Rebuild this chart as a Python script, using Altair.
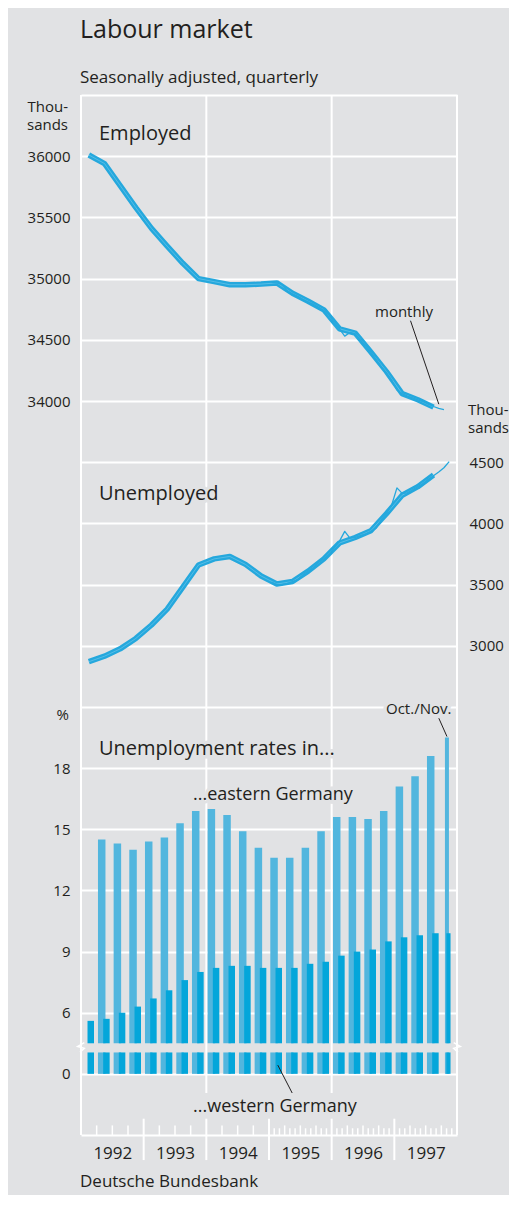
import altair as alt
import pandas as pd

# ---------------- data ----------------
quarters = [f"{y} Q{q}" for y in range(1992, 1998) for q in range(1, 5)][:23] + ["1997 Oct/Nov"]

# thousands, seasonally adjusted, quarterly 1992 Q1 - 1997 Q3
employed_q = [36010, 35940, 35760, 35580, 35410, 35265, 35125, 35000,
              34975, 34950, 34950, 34955, 34965, 34880, 34815, 34745,
              34590, 34555, 34400, 34240, 34060, 34010, 33950]
unemployed_q = [2870, 2915, 2975, 3060, 3170, 3300, 3480, 3660,
                3710, 3730, 3665, 3570, 3505, 3525, 3610, 3710,
                3840, 3885, 3940, 4080, 4230, 4300, 4395]

# monthly, Jan 1995 onwards
employed_m = [34970, 34965, 34950, 34900, 34875, 34855, 34830, 34810, 34790, 34765, 34740, 34700,
              34640, 34590, 34530, 34560, 34550, 34500, 34450, 34400, 34340, 34280, 34230, 34170,
              34090, 34060, 34040, 34025, 34010, 33995, 33975, 33955, 33940, 33930]
unemployed_m = [3520, 3500, 3500, 3510, 3525, 3540, 3580, 3610, 3640, 3680, 3710, 3745,
                3800, 3855, 3935, 3880, 3885, 3900, 3915, 3935, 3960, 4030, 4080, 4150,
                4290, 4245, 4250, 4275, 4300, 4325, 4360, 4390, 4420, 4455, 4505]

# unemployment rates, % (eastern series begins one quarter later in the chart)
east_rate = [None, 14.5, 14.3, 14.0, 14.4, 14.6, 15.3, 15.9, 16.0, 15.7, 14.9, 14.1,
             13.6, 13.6, 14.1, 14.9, 15.6, 15.6, 15.5, 15.9, 17.1, 17.6, 18.6, 19.5]
west_rate = [5.6, 5.7, 6.0, 6.3, 6.7, 7.1, 7.6, 8.0, 8.2, 8.3, 8.3, 8.2,
             8.2, 8.2, 8.4, 8.5, 8.8, 9.0, 9.1, 9.5, 9.7, 9.8, 9.9, 9.9]

year_labels = ["1992", "1993", "1994", "1995", "1996", "1997"]

# ---------------- styling ----------------
BG = "#e1e2e4"
TXT = "#231f20"
EAST_C = "#52b6de"
WEST_C = "#04a6da"
LINE_C = "#25a8dd"
STRIPE_C = "#6cc6ea"
FONT = "Open Sans"

W, H = 376, 1040
TOP_H = 612
PX_YEAR = W / 6.0
OFFSET_U = 29000  # unemployed plotted against the employed scale shifted by this

XS = alt.Scale(domain=[1992, 1998], nice=False, zero=False)
LINE_SCALE = alt.Scale(domain=[31500, 36500], range=[TOP_H, 0], nice=False, zero=False)
BAR_SCALE = alt.Scale(domain=[0, 21], range=[H, TOP_H], nice=False, zero=False)

X_AXIS = alt.Axis(values=[1992.5 + i for i in range(6)],
                  labelExpr="format(floor(datum.value), 'd')",
                  title=None, grid=False, tickSize=0, domain=True, domainColor="white",
                  domainWidth=2, labelPadding=10, labelFontSize=17, labelColor=TXT,
                  labelFont=FONT, labelFlush=False)


def X(field):
    return alt.X(field, type="quantitative", scale=XS, axis=X_AXIS)


# ---------------- tables ----------------
def q_time(j):
    return 1992 + (j + 0.5) / 4


def m_time(k):
    return 1995 + (k + 0.5) / 12


lines_q = pd.DataFrame(
    [{"t": q_time(j), "v": v, "s": "employed"} for j, v in enumerate(employed_q)]
    + [{"t": q_time(j), "v": v, "s": "unemployed"} for j, v in enumerate(unemployed_q)]
)
lines_m = pd.DataFrame(
    [{"t": m_time(k), "v": v, "s": "employed"} for k, v in enumerate(employed_m)]
    + [{"t": m_time(k), "v": v, "s": "unemployed"} for k, v in enumerate(unemployed_m)]
)

BREAK_LO, BREAK_HI, BASE = 4.05, 4.5, 3.0
rows = []
for j, q in enumerate(quarters):
    last = j == len(quarters) - 1
    for series, vals, off in (("east", east_rate, (3.6, 7.6) if last else (1.3, 8.8)),
                              ("west", west_rate, (5.0, 9.2) if last else (6.5, 13.0))):
        v = vals[j]
        if v is None:
            continue
        x0 = 1992 + j / 4 + off[0] / PX_YEAR
        x1 = 1992 + j / 4 + off[1] / PX_YEAR
        rows.append({"q": q, "s": series, "rate": v, "x0": x0, "x1": x1, "y0": BASE, "y1": BREAK_LO})
        rows.append({"q": q, "s": series, "rate": v, "x0": x0, "x1": x1, "y0": BREAK_HI, "y1": v})
bars = pd.DataFrame(rows)

tick_rows = []
for y in range(1992, 1998):
    if y > 1992:
        tick_rows.append({"pos": y, "a": 0.8, "b": -1.23, "w": 2})
    if y < 1995:
        for q in range(1, 4):
            tick_rows.append({"pos": y + q / 4, "a": 0.0, "b": 0.47, "w": 1.5})
    else:
        for m in range(1, 12):
            tick_rows.append({"pos": y + m / 12, "a": 0.0, "b": 0.47 if m % 3 == 0 else 0.33, "w": 1.5})
ticks = pd.DataFrame(tick_rows)

# ---------------- layers ----------------
one = alt.Data(values=[{}])

borders = alt.Chart(pd.DataFrame({"yr": [1992, 1998]})).mark_rule(color="white", strokeWidth=2).encode(
    x=X("yr"), y=alt.value(0), y2=alt.value(H))
inner = alt.Chart(pd.DataFrame({"yr": [1994, 1996]})).mark_rule(color="white", strokeWidth=2).encode(
    x=X("yr"), y=alt.value(0), y2=alt.value(H - 42))

BAR_AXIS = alt.Axis(values=[3, 6, 9, 12, 15, 18, 21], orient="left",
                    labelExpr="datum.value == 3 ? '0' : (datum.value == 21 ? '' : format(datum.value, 'd'))",
                    title=None, grid=True, gridColor="white", gridWidth=2, gridOpacity=1,
                    tickSize=0, domain=False, labelPadding=11, labelFontSize=15,
                    labelColor=TXT, labelFont=FONT, labelBaseline="middle")
east = alt.Chart(bars).transform_filter("datum.s == 'east'").mark_rect(color=EAST_C).encode(
    x=X("x0"), x2="x1",
    y=alt.Y("y0:Q", scale=BAR_SCALE, axis=BAR_AXIS), y2="y1")
west = alt.Chart(bars).transform_filter("datum.s == 'west'").mark_rect(color=WEST_C).encode(
    x=X("x0"), x2="x1",
    y=alt.Y("y0:Q", scale=BAR_SCALE, axis=None), y2="y1")

EMP_AXIS = alt.Axis(values=[32000 + 500 * i for i in range(10)], orient="left",
                    labelExpr="(datum.value >= 34000 && datum.value <= 36000) ? format(datum.value, 'd') : ''",
                    title=None, grid=True, gridColor="white", gridWidth=2, gridOpacity=1,
                    tickSize=0, domain=False, labelPadding=11, labelFontSize=15,
                    labelColor=TXT, labelFont=FONT, labelBaseline="middle")
UNE_AXIS = alt.Axis(values=[32000, 32500, 33000, 33500], orient="right",
                    labelExpr=f"format(datum.value - {OFFSET_U}, 'd')",
                    title=None, grid=False, tickSize=0, domain=False, labelPadding=12,
                    labelFontSize=15, labelColor=TXT, labelFont=FONT, labelBaseline="middle")


def line_layers(df, series, axis, thick):
    base = alt.Chart(df).transform_filter(f"datum.s == '{series}'").transform_calculate(
        yv=f"datum.v + {OFFSET_U if series == 'unemployed' else 0}")
    if thick:
        main = base.mark_line(color=LINE_C, strokeWidth=5.5, strokeJoin="round").encode(
            x=X("t"), y=alt.Y("yv:Q", scale=LINE_SCALE, axis=axis))
        stripe = base.mark_line(color=STRIPE_C, strokeWidth=0.7, strokeJoin="round").encode(
            x=X("t"), y=alt.Y("yv:Q", scale=LINE_SCALE, axis=None))
        return [main, stripe]
    return [base.mark_line(color=LINE_C, strokeWidth=1.3, strokeJoin="round").encode(
        x=X("t"), y=alt.Y("yv:Q", scale=LINE_SCALE, axis=axis))]


emp_layers = line_layers(lines_q, "employed", EMP_AXIS, True) + line_layers(lines_m, "employed", None, False)
une_layers = line_layers(lines_q, "unemployed", UNE_AXIS, True) + line_layers(lines_m, "unemployed", None, False)

tick_layer = alt.Chart(ticks).mark_rule(color="white").encode(
    x=X("pos"), y=alt.Y("a:Q", scale=BAR_SCALE, axis=None), y2="b",
    strokeWidth=alt.StrokeWidth("w:Q", scale=None, legend=None))

brk_l = alt.Chart(one).mark_point(shape="M 0.7 -1 L -0.7 -0.2 L 0.7 0.2 L -0.2 1", filled=False,
                                  stroke="white", strokeWidth=1.5, size=90, opacity=1).encode(
    x=alt.X(datum=1992, type="quantitative", scale=XS, axis=X_AXIS),
    y=alt.Y(datum=4.3, type="quantitative", scale=BAR_SCALE, axis=None))
brk_r = alt.Chart(one).mark_point(shape="M -0.7 -1 L 0.7 -0.2 L -0.7 0.2 L 0.2 1", filled=False,
                                  stroke="white", strokeWidth=1.5, size=90, opacity=1).encode(
    x=alt.X(datum=1998, type="quantitative", scale=XS, axis=X_AXIS),
    y=alt.Y(datum=4.3, type="quantitative", scale=BAR_SCALE, axis=None))


def leader(x0, x1, y0, y1, scale):
    return alt.Chart(one).mark_rule(color=TXT, strokeWidth=1).encode(
        x=alt.X(datum=x0, type="quantitative", scale=XS, axis=X_AXIS), x2=alt.datum(x1),
        y=alt.Y(datum=y0, type="quantitative", scale=scale, axis=None), y2=alt.datum(y1))


leaders = [
    leader(1997.25, 1997.71, 34668, 33974, LINE_SCALE),
    leader(1997.71, 1997.84, 20.45, 19.55, BAR_SCALE),
    leader(1995.14, 1995.37, 3.43, 2.06, BAR_SCALE),
]


def note(text, x, y, size, halo=False, align="left", baseline="alphabetic"):
    out = []
    if halo:
        out.append(alt.Chart(one).mark_text(text=text, font=FONT, fontSize=size, align=align,
                                            baseline=baseline, color=BG, stroke=BG, strokeWidth=7).encode(
            x=alt.value(x), y=alt.value(y)))
    out.append(alt.Chart(one).mark_text(text=text, font=FONT, fontSize=size, align=align,
                                        baseline=baseline, color=TXT).encode(
        x=alt.value(x), y=alt.value(y)))
    return out


notes = (
    note("Labour market", -1, -57, 25)
    + note("Seasonally adjusted, quarterly", -1, -12, 17)
    + note("Thou-", -13, 17, 15, align="right")
    + note("sands", -13, 35, 15, align="right")
    + note("Thou-", 387, 320, 15)
    + note("sands", 387, 338, 15)
    + note("%", -12, 620, 15, align="right", baseline="middle")
    + note("Employed", 18, 45, 20, halo=True)
    + note("Unemployed", 18, 405, 20, halo=True)
    + note("monthly", 294, 222, 15, halo=True)
    + note("Unemployment rates in...", 18, 660, 20, halo=True)
    + note("...eastern Germany", 112, 705, 18, halo=True)
    + note("Oct./Nov.", 305, 619, 15, halo=True)
    + note("...western Germany", 112, 1017, 18, halo=True)
    + note("Deutsche Bundesbank", -1, 1092, 17)
)

chart = alt.layer(
    borders, inner, east, west, *emp_layers, *une_layers, tick_layer, brk_l, brk_r, *leaders, *notes
).resolve_scale(y="independent").properties(
    width=W, height=H,
    padding={"left": 73, "top": 87, "right": 52, "bottom": 60},
    autosize=alt.AutoSizeParams(type="none"),
).configure(background=BG, font=FONT).configure_view(stroke=None)

chart.save("out.html", embed_options={"renderer": "svg", "actions": False})
